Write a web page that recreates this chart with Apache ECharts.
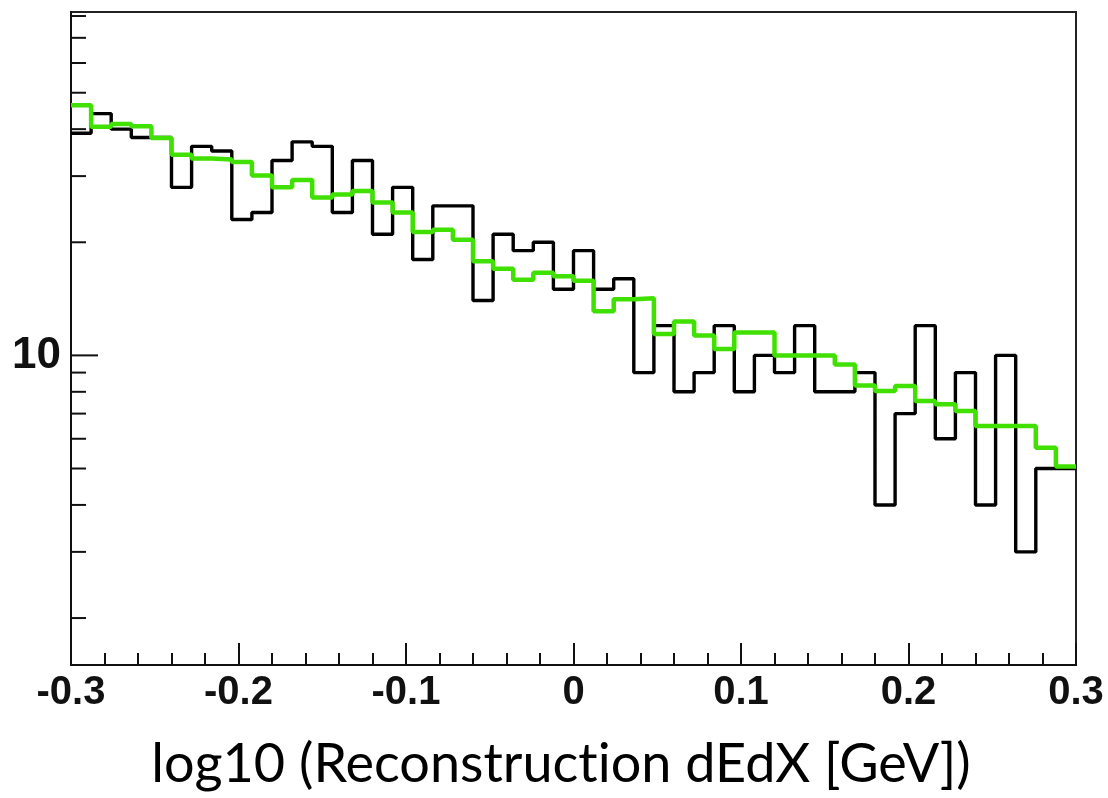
<!DOCTYPE html>
<html>
<head>
<meta charset="utf-8">
<script src="https://cdn.jsdelivr.net/npm/echarts@6/dist/echarts.min.js"></script>
<style>
  html, body { margin: 0; padding: 0; background: #ffffff; }
  #chart { width: 1108px; height: 798px; }
</style>
</head>
<body>
<div id="chart"></div>
<script>
// Histogram binning: 50 equal bins of log10(dE/dx) between -0.3 and 0.3
const xMin = -0.3;
const xMax = 0.3;
const nBins = 50;

// Reconstructed counts per bin (black histogram)
const dataCounts = [
  39, 44, 40, 38, 38, 28, 36, 35, 23, 24,
  33, 37, 36, 24, 33, 21, 28, 18, 25, 25,
  14, 21, 19, 20, 15, 19, 15, 16, 9, 12,
  8, 9, 12, 8, 10, 9, 12, 8, 8, 9,
  4, 7, 12, 6, 9, 4, 10, 3, 5, 5
];

// Simulated expectation per bin (green histogram)
const mcExpected = [
  46.3, 40.6, 41.3, 40.7, 37.9, 34.2, 33.4, 33.2, 32.7, 30.1,
  28.0, 29.3, 26.3, 26.8, 27.4, 25.5, 24.0, 21.3, 21.6, 20.3,
  17.8, 17.0, 15.9, 16.6, 16.25, 15.8, 13.1, 14.1, 14.2, 11.4,
  12.3, 11.3, 10.4, 11.5, 11.5, 10.0, 10.0, 10.0, 9.45, 8.32,
  8.04, 8.29, 7.56, 7.41, 7.11, 6.49, 6.49, 6.49, 5.68, 5.06
];

// Axis ticks and labels
const xTickValues = [-0.3, -0.2, -0.1, 0, 0.1, 0.2, 0.3];
const xTickLabels = ['-0.3', '-0.2', '-0.1', '0', '0.1', '0.2', '0.3'];
const yMajorTicks = [10];
const yMajorLabels = ['10'];
const yMinorTicks = [2, 3, 4, 5, 6, 7, 8, 9, 20, 30, 40, 50, 60, 70, 80];
const yMin = 1.5;
const yMax = 82;
// zero-width non-joiner keeps "ti" from fusing into a ligature
const xTitle = 'log10 (Reconstruct\u200Cion dEdX [GeV])';

// Turn per-bin contents into step-line points: one point per lower bin edge,
// plus the upper edge of the last bin so the final step is closed.
function histPoints(values) {
  const w = (xMax - xMin) / nBins;
  const pts = values.map((v, i) => [xMin + i * w, v]);
  pts.push([xMax, values[values.length - 1]]);
  return pts;
}

// Tick marks on the logarithmic axis (major ticks carry a label)
const yTickData = yMajorTicks.map(v => [xMin, v, 1])
  .concat(yMinorTicks.map(v => [xMin, v, 0]));

const labelFont = '"Liberation Sans", Arial, Helvetica, sans-serif';

const chart = echarts.init(document.getElementById('chart'), null, { renderer: 'canvas' });

chart.setOption({
  animation: false,
  backgroundColor: '#ffffff',
  grid: {
    left: 71,
    top: 12,
    right: 32,
    bottom: 133,
    show: true,
    borderColor: '#222222',
    borderWidth: 2,
    backgroundColor: 'transparent'
  },
  xAxis: {
    type: 'value',
    min: xMin,
    max: xMax,
    interval: 0.1,
    axisLine: { show: true, onZero: false, lineStyle: { color: '#111111', width: 2 } },
    axisTick: { show: true, inside: true, length: 22, lineStyle: { color: '#111111', width: 2 } },
    minorTick: { show: true, splitNumber: 5, length: 12, lineStyle: { color: '#111111', width: 2 } },
    splitLine: { show: false },
    minorSplitLine: { show: false },
    axisLabel: {
      show: true,
      margin: 8,
      color: '#111111',
      fontFamily: labelFont,
      fontWeight: 'bold',
      fontSize: 40,
      formatter: function (v) {
        const i = xTickValues.findIndex(t => Math.abs(t - v) < 1e-9);
        return i >= 0 ? xTickLabels[i] : '';
      }
    }
  },
  yAxis: {
    type: 'log',
    logBase: 10,
    min: yMin,
    max: yMax,
    axisLine: { show: true, onZero: false, lineStyle: { color: '#111111', width: 2 } },
    axisTick: { show: false },
    axisLabel: { show: false },
    splitLine: { show: false }
  },
  graphic: [{
    type: 'text',
    x: 561,
    y: 738,
    style: {
      text: xTitle,
      align: 'center',
      verticalAlign: 'top',
      fill: '#000000',
      font: '54px Lato, "Open Sans", sans-serif'
    }
  }],
  series: [
    {
      name: 'data',
      type: 'line',
      step: 'end',
      showSymbol: false,
      symbol: 'none',
      clip: true,
      z: 3,
      lineStyle: { color: '#000000', width: 3.4 },
      data: histPoints(dataCounts)
    },
    {
      name: 'simulation',
      type: 'line',
      step: 'end',
      showSymbol: false,
      symbol: 'none',
      clip: true,
      z: 4,
      lineStyle: { color: '#40e000', width: 4.5 },
      data: histPoints(mcExpected)
    },
    {
      name: 'yTicks',
      type: 'custom',
      coordinateSystem: 'cartesian2d',
      silent: true,
      clip: false,
      z: 6,
      data: yTickData,
      renderItem: function (params, api) {
        const v = api.value(1);
        const major = api.value(2) === 1;
        const p = api.coord([xMin, v]);
        const len = major ? 27 : 15;
        const children = [{
          type: 'line',
          shape: { x1: p[0], y1: p[1], x2: p[0] + len, y2: p[1] },
          style: { stroke: '#111111', lineWidth: 2 }
        }];
        if (major) {
          children.push({
            type: 'text',
            style: {
              text: yMajorLabels[params.dataIndex],
              x: p[0] - 10,
              y: p[1],
              align: 'right',
              verticalAlign: 'middle',
              fill: '#111111',
              font: 'bold 44px ' + labelFont
            }
          });
        }
        return { type: 'group', children: children };
      }
    }
  ]
});
</script>
</body>
</html>
